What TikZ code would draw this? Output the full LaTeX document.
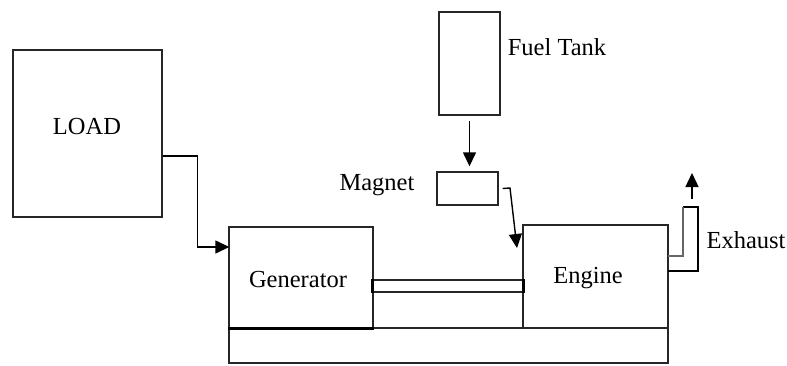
\documentclass[tikz,border=0pt]{standalone}
\usepackage{fontspec}
\setmainfont{Liberation Serif}
\usetikzlibrary{arrows.meta,calc}
\begin{document}
\begin{tikzpicture}[x=1pt,y=-1pt,
  box/.style={draw=black!85,line width=1.4pt,inner sep=0pt,minimum width=#1},
  lbl/.style={inner sep=0pt,font=\fontsize{24.5}{28}\selectfont},
  arr/.style={line width=1.4pt,-{Triangle[length=14pt,width=13pt]}},
  pipe/.style={line width=1.4pt}]
\useasboundingbox (0,0) rectangle (787,365);
% boxes
\node[box=149pt,minimum height=167pt] (load) at (87.5,133.5) {};
\node[box=61pt,minimum height=103pt] (fuel) at (469.5,63.5) {};
\node[box=61pt,minimum height=33pt] (mag) at (467.5,188.5) {};
\node[box=144pt,minimum height=101pt] (gen) at (301,277.5) {};
\node[box=145pt,minimum height=103pt] (eng) at (595.5,276.5) {};
\node[box=439pt,minimum height=35pt] (base) at (448.5,345.5) {};
\node[box=150pt,minimum height=12pt] (shaft) at (448,286) {};
% thick edges
\draw[line width=2.6pt] (gen.south west) -- (gen.south east);
\draw[line width=2.6pt] (shaft.north west) -- (shaft.south west);
\draw[line width=2.6pt] (shaft.north east) -- (shaft.south east);
% labels
\node[lbl] (tload) at (87,127) {LOAD};
\node[lbl] (tfuel) at (557,47) {Fuel Tank};
\node[lbl] (tmag) at (377,185) {Magnet};
\node[lbl] (tgen) at (298,280) {Generator};
\node[lbl] (teng) at (588,278) {Engine};
\node[lbl] (texh) at (746,240) {Exhaust};
% connectors
\draw[arr] ([yshift=-22.5pt]load.east) -- ++(35,0) |- ([yshift=30.5pt,xshift=1pt]gen.west);
\draw[arr] ([yshift=-5pt]fuel.south) -- ([yshift=5pt]fuel.south |- mag.north);
\coordinate (mstart) at ([xshift=4pt]mag.east);
\coordinate (mend) at (517,248);
\draw[arr] (mstart) -- (510,188) -- (mend);
% exhaust pipe
\coordinate (p1) at (668,271);
\coordinate (p2) at (668,256);
\draw[pipe] (p1) -- (698,271) -- (698,207) -- (683,207);
\draw[pipe,black!60] (683,207) -- (683,256) -- (p2);
\coordinate (ea) at (692,199);
\coordinate (eb) at (692,173);
\draw[arr] (ea) -- (eb);
\end{tikzpicture}
\end{document}
